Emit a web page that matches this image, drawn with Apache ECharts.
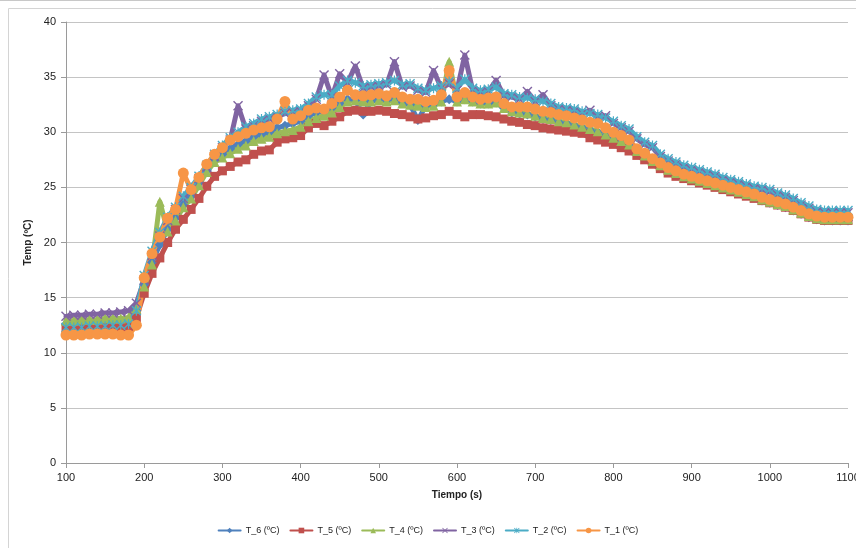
<!DOCTYPE html>
<html><head><meta charset="utf-8">
<script src="https://cdn.jsdelivr.net/npm/echarts@6/dist/echarts.min.js"></script>
<style>html,body{margin:0;padding:0;background:#fff}#c{width:856px;height:548px}</style>
</head><body><div id="c"></div>
<script>
const tiempo = [100,110,120,130,140,150,160,170,180,190,200,210,220,230,240,250,260,270,280,290,300,310,320,330,340,350,360,370,380,390,400,410,420,430,440,450,460,470,480,490,500,510,520,530,540,550,560,570,580,590,600,610,620,630,640,650,660,670,680,690,700,710,720,730,740,750,760,770,780,790,800,810,820,830,840,850,860,870,880,890,900,910,920,930,940,950,960,970,980,990,1000,1010,1020,1030,1040,1050,1060,1070,1080,1090,1100];
const seriesNames = ["T_6 (ºC)","T_5 (ºC)","T_4 (ºC)","T_3 (ºC)","T_2 (ºC)","T_1 (ºC)"];
const T6 = [12.6,12.6,12.7,12.7,12.7,12.8,12.8,12.8,12.9,13.8,16.2,18.2,19.8,21.2,22.2,23.4,24.2,25.4,26.5,27.5,28.0,28.5,28.9,29.2,29.6,29.8,30.0,30.4,30.6,30.8,31.0,31.5,31.8,31.9,32.2,32.6,33.0,32.9,31.6,32.8,33.0,32.9,33.0,32.7,32.5,31.1,32.4,32.5,32.8,33.0,32.8,33.0,32.8,32.6,32.6,32.7,32.2,31.8,31.7,31.6,31.4,31.2,31.1,30.9,30.8,30.6,30.4,30.2,30.0,29.7,29.4,29.1,28.8,28.2,27.8,27.3,26.9,26.5,26.2,25.9,25.7,25.5,25.3,25.1,24.9,24.7,24.5,24.3,24.1,23.8,23.6,23.4,23.2,22.9,22.6,22.3,22.1,22.0,22.0,22.0,22.0];
const T5 = [12.2,12.2,12.2,12.3,12.3,12.3,12.4,12.3,12.4,13.2,15.4,17.2,18.6,20.0,21.2,22.1,23.0,24.0,25.1,26.0,26.5,26.9,27.3,27.5,28.0,28.3,28.4,29.1,29.4,29.5,29.7,30.4,30.8,30.6,31.0,31.4,31.9,32.0,31.9,31.9,32.0,31.9,31.7,31.6,31.4,31.2,31.3,31.5,31.6,31.9,31.6,31.4,31.6,31.6,31.5,31.4,31.2,31.0,30.9,30.7,30.6,30.4,30.3,30.2,30.1,30.0,29.9,29.5,29.3,29.1,28.9,28.6,28.3,27.9,27.5,27.1,26.7,26.3,26.0,25.8,25.6,25.4,25.2,25.0,24.8,24.6,24.4,24.2,24.0,23.8,23.6,23.4,23.2,22.9,22.6,22.3,22.1,22.0,22.0,22.0,22.0];
const T4 = [12.9,12.9,13.0,13.0,13.0,13.1,13.1,13.1,13.2,14.0,16.0,18.0,23.7,21.0,22.0,23.2,24.0,25.2,26.4,27.3,27.7,28.1,28.5,28.8,29.2,29.4,29.6,29.9,30.1,30.2,30.5,31.0,31.3,31.5,31.8,32.3,32.8,32.9,32.8,32.8,32.9,32.8,32.9,32.6,32.5,32.4,32.3,32.4,32.8,36.4,32.8,33.0,32.8,32.6,32.6,32.7,32.2,31.9,31.8,31.7,31.5,31.3,31.2,31.0,30.9,30.7,30.5,30.3,30.1,29.8,29.5,29.2,28.9,28.3,27.9,27.4,27.0,26.6,26.3,26.0,25.8,25.6,25.4,25.2,25.0,24.8,24.6,24.4,24.2,23.9,23.7,23.5,23.3,23.0,22.7,22.4,22.2,22.1,22.1,22.1,22.1];
const T3 = [13.3,13.4,13.4,13.5,13.5,13.6,13.6,13.7,13.8,14.5,16.6,18.8,20.6,22.0,23.0,24.0,24.8,25.8,26.8,27.8,28.6,29.3,32.4,30.3,30.6,31.0,31.2,31.4,31.7,31.8,31.9,32.4,33.0,35.2,33.2,35.3,34.5,36.0,34.0,34.1,34.2,34.3,36.4,34.1,34.2,33.8,33.6,35.6,34.0,34.4,33.8,37.0,33.8,33.6,33.7,34.7,33.3,33.2,33.0,33.7,32.8,33.4,32.4,32.1,32.0,31.9,31.7,32.0,31.4,31.5,30.8,30.4,30.1,29.4,28.9,28.6,27.8,27.4,27.1,26.8,26.6,26.4,26.2,26.0,25.7,25.5,25.3,25.1,24.9,24.8,24.6,24.3,24.1,23.8,23.4,23.1,22.8,22.7,22.7,22.7,22.7];
const T2 = [12.3,12.3,12.3,12.4,12.4,12.4,12.5,12.5,12.6,13.8,17.0,19.2,20.9,22.3,23.2,24.2,25.0,26.0,27.0,28.0,28.8,29.5,30.0,30.5,30.8,31.2,31.4,31.6,31.9,32.0,32.1,32.6,33.2,33.4,33.4,34.2,34.7,34.5,34.2,34.3,34.4,34.5,34.7,34.3,34.4,34.0,33.8,34.0,34.2,34.6,34.0,34.8,34.0,33.8,33.9,34.1,33.5,33.4,33.2,33.1,33.0,32.8,32.6,32.3,32.2,32.1,31.9,31.7,31.6,31.3,31.0,30.6,30.3,29.6,29.1,28.8,28.0,27.6,27.3,27.0,26.8,26.6,26.4,26.2,25.9,25.7,25.5,25.3,25.1,25.0,24.8,24.5,24.3,24.0,23.6,23.3,23.0,22.9,22.9,22.9,22.9];
const T1 = [11.6,11.6,11.6,11.7,11.7,11.7,11.7,11.6,11.6,12.5,16.8,19.0,20.5,22.2,23.0,26.3,24.8,25.9,27.1,28.0,28.6,29.3,29.6,29.9,30.2,30.4,30.5,31.2,32.8,31.2,31.5,32.0,32.2,32.1,32.6,33.2,33.8,33.4,33.3,33.4,33.5,33.3,33.6,33.2,33.0,33.0,32.8,32.9,33.4,35.6,33.2,33.6,33.2,33.0,33.1,33.2,32.6,32.3,32.3,32.3,32.1,31.9,31.8,31.6,31.5,31.3,31.1,30.9,30.8,30.4,30.0,29.7,29.3,28.5,28.1,27.6,27.2,26.8,26.5,26.2,26.0,25.8,25.6,25.4,25.2,25.0,24.8,24.6,24.4,24.1,23.9,23.7,23.5,23.2,22.9,22.6,22.4,22.3,22.3,22.3,22.3];
const yTicks = [0,5,10,15,20,25,30,35,40];
const xTicks = [100,200,300,400,500,600,700,800,900,1000,1100];

const colors = ['#4f81bd','#c0504d','#9bbb59','#8064a2','#4bacc6','#f79646'];
const symX = 'path://M0,1L1,0L5,4L9,0L10,1L6,5L10,9L9,10L5,6L1,10L0,9L4,5Z';
const symStar = 'path://M0,1L1,0L5,4L9,0L10,1L6,5L10,9L9,10L5,6L1,10L0,9L4,5Z M4.4,0L5.6,0L5.6,10L4.4,10Z';
const symbols = ['diamond','rect','triangle',symX,symStar,'circle'];
const sizes = [10,9,10,10,10,11];
const allData = [T6,T5,T4,T3,T2,T1];
const font = '"Liberation Sans Narrow","Liberation Sans",Arial,sans-serif';

const series = allData.map((arr,i)=>({
  name: seriesNames[i], type:'line',
  data: arr.map((v,j)=>[tiempo[j], v]),
  symbol: symbols[i], symbolSize: sizes[i], showAllSymbol:true,
  lineStyle:{width:5,color:colors[i],join:'round',cap:'round'}, itemStyle:{color:colors[i]},
  emphasis:{disabled:true}
}));

const chart = echarts.init(document.getElementById('c'));
chart.setOption({
  animation:false,
  textStyle:{fontFamily:font},
  graphic:[
    {type:'rect',shape:{x:8.5,y:8.5,width:860,height:560},style:{fill:'none',stroke:'#d4d4d4',lineWidth:1},silent:true},
    {type:'line',shape:{x1:0,y1:0.5,x2:856,y2:0.5},style:{stroke:'#c8c8c8',lineWidth:1},silent:true}
  ],
  grid:{left:66,right:8,top:22,bottom:85,outerBoundsMode:'none',containLabel:false},
  xAxis:{type:'value',min:100,max:1100,interval:100,
    name:'Tiempo (s)',nameLocation:'middle',nameGap:27,
    nameTextStyle:{fontSize:10,fontWeight:'bold',color:'#222',fontFamily:font},
    axisLine:{lineStyle:{color:'#9a9a9a'}},axisTick:{show:true,length:5,lineStyle:{color:'#9a9a9a'}},
    axisLabel:{fontSize:11,color:'#222',margin:9,fontFamily:font,formatter:v=>String(v)},
    splitLine:{show:false}},
  yAxis:{type:'value',min:0,max:40,interval:5,
    name:'Temp (ºC)',nameLocation:'middle',nameGap:26,nameRotate:90,
    nameTextStyle:{fontSize:10,fontWeight:'bold',color:'#222',fontFamily:font},
    axisLine:{show:true,lineStyle:{color:'#9a9a9a'}},axisTick:{show:true,length:5,lineStyle:{color:'#9a9a9a'}},
    axisLabel:{fontSize:11,color:'#222',margin:10,fontFamily:font,formatter:v=>String(v)},
    splitLine:{lineStyle:{color:'#c4c4c4',width:1}}},
  legend:{bottom:8,left:'center',itemWidth:22,itemHeight:7,itemGap:10,
    lineStyle:{width:2},
    textStyle:{fontSize:9,color:'#222',fontFamily:font},
    data:seriesNames},
  series: series
});
</script></body></html>
